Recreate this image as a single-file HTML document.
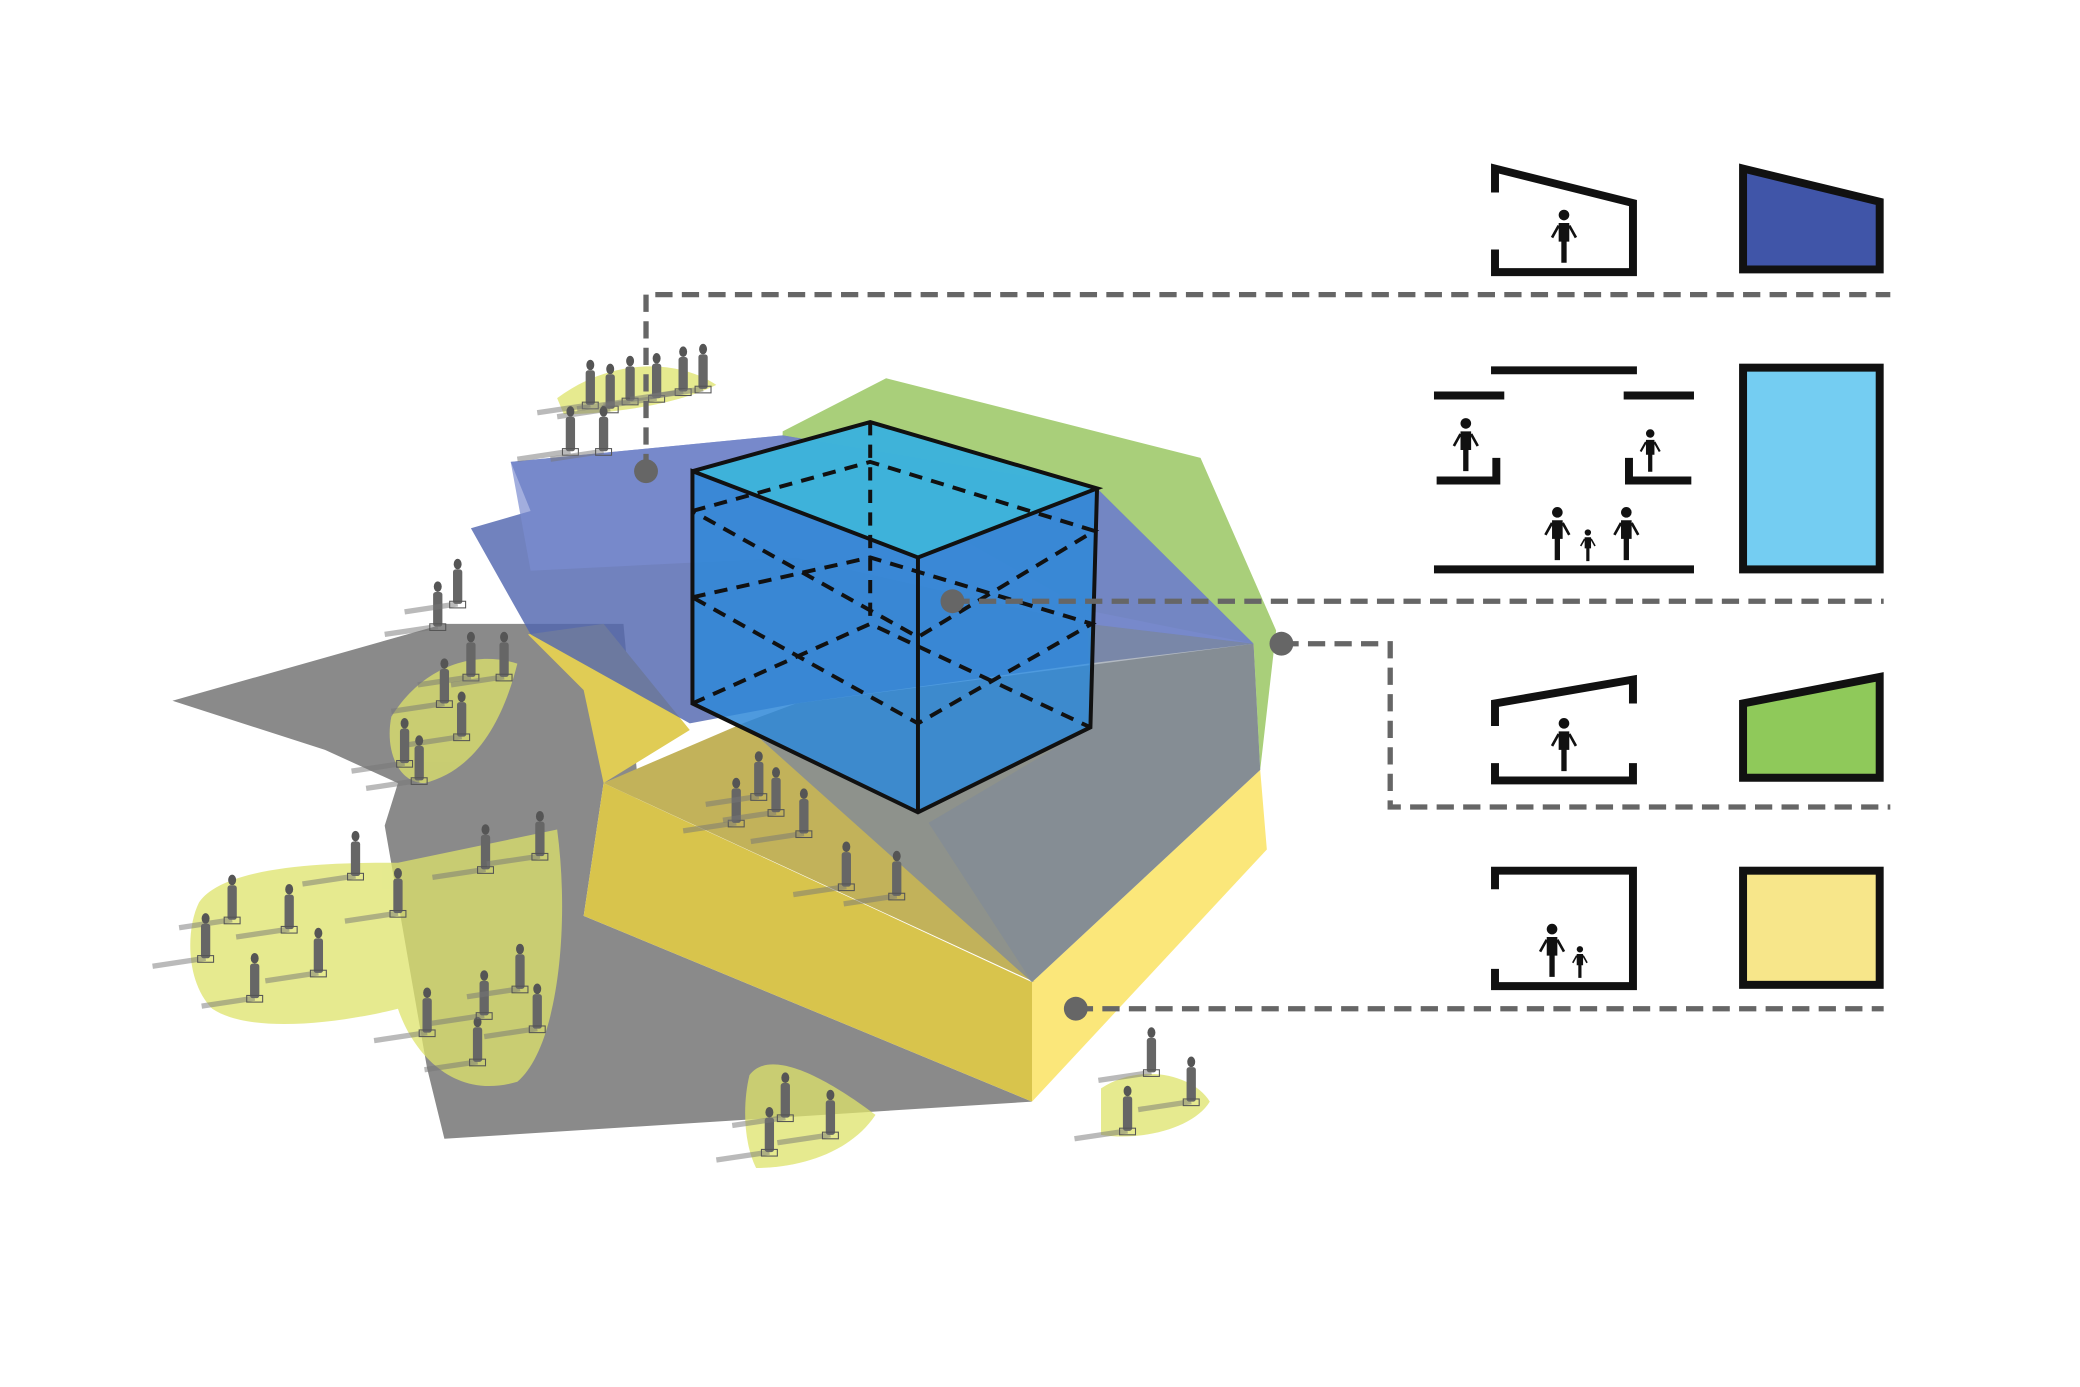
<!DOCTYPE html>
<html><head><meta charset="utf-8"><style>
html,body{margin:0;padding:0;background:#fff;width:2080px;height:1387px;overflow:hidden}
svg{display:block}
</style></head><body>
<svg width="2080" height="1387" viewBox="0 0 1568 1045" preserveAspectRatio="none" xmlns="http://www.w3.org/2000/svg">
<defs>
<g id="p"><path d="M0,0 L-40,6" stroke="#777" stroke-width="4" opacity="0.5"/><ellipse cx="0" cy="-30" rx="3" ry="4" fill="#555"/><rect x="-3.5" y="-26" width="7" height="26" rx="2" fill="#666"/><rect x="-6" y="-2" width="12" height="5" fill="none" stroke="#555" stroke-width="0.8"/></g>
<g id="ic"><circle cx="0" cy="-38" r="4" fill="#111"/><path d="M-4,-32 h8 v14 h-2 v16 h-4 v-16 h-2z" fill="#111"/><path d="M-4,-30 l-5,9 M4,-30 l5,9" stroke="#111" stroke-width="2"/></g>
</defs>
<rect width="1568" height="1045" fill="#fff"/>
<!-- ground shadow -->
<polygon points="130,528 335,470 470,470 480,580 455,590 440,690 778,830 335,858 322,805 290,622 300,590 245,565" fill="#8a8a8a"/>
<!-- yellow glow areas -->
<g fill="#dde36a" opacity="0.75">
<path d="M150,680 C170,650 260,650 300,650 L420,625 C430,700 420,790 390,815 C340,830 310,790 300,760 C260,770 190,780 160,760 C140,740 140,700 150,680Z"/>
<path d="M295,540 C320,500 360,490 390,500 C380,540 360,580 320,590 C300,590 290,565 295,540Z"/>
<path d="M540,570 C560,550 620,560 660,600 C690,630 700,670 670,680 C640,680 600,640 560,630 C540,620 535,590 540,570Z"/>
<path d="M565,810 C580,790 620,810 660,840 C640,870 600,880 570,880 C560,860 560,830 565,810Z"/>
<path d="M830,820 C860,800 900,810 912,830 C900,850 860,860 830,855Z"/>
<path d="M420,300 C460,270 510,270 540,290 C510,305 460,312 425,312Z"/>
</g>
<!-- yellow block -->
<polygon points="778,740 950,580 955,640 778,830" fill="#fbe77a"/>
<polygon points="440,690 455,590 778,740 778,830" fill="#d8c44c"/>
<polygon points="455,590 560,545 780,740" fill="#c2b25a"/>
<polygon points="398,478 455,470 520,550 455,590 440,520" fill="#e0cc55"/>
<!-- gray roof -->
<polygon points="560,545 600,530 945,485 950,580 778,740" fill="#8e928c"/>
<!-- green volume -->
<polygon points="590,325 668,285 905,345 962,475 950,580 945,485 820,460 590,330" fill="#a9cf7a"/>
<!-- blue slab -->
<polygon points="355,398 400,385 385,348 590,328 827,368 945,485 820,500 600,530 520,545 400,478" fill="#5266b0" opacity="0.82"/>
<polygon points="385,348 590,328 827,368 945,485 820,470 600,420 400,430" fill="#7b8bd0" opacity="0.7"/>
<polygon points="820,470 945,485 950,580 778,740 700,620 822,548" fill="#7f8a9a" opacity="0.6"/>
<!-- dashed cube -->
<polygon points="522,355 656,318 827,368 822,548 692,612 522,530" fill="#2f88d8" opacity="0.85"/>
<polygon points="522,355 656,318 827,368 692,420" fill="#3fb7da" opacity="0.9"/>
<g fill="none" stroke="#111" stroke-width="3">
<polyline points="522,355 656,318 827,368 692,420 522,355 522,530 692,612 822,548 827,368"/>
<line x1="692" y1="420" x2="692" y2="612"/>
</g>
<g fill="none" stroke="#111" stroke-width="3" stroke-dasharray="10,7">
<line x1="656" y1="318" x2="656" y2="470"/>
<polyline points="522,530 656,470 822,548"/>
<polyline points="522,385 656,348 825,400 692,480 522,385"/>
<polyline points="522,450 656,420 823,470 692,545 522,450"/>
</g>
<!-- people -->
<g>
<use href="#p" x="330" y="472"/><use href="#p" x="345" y="455"/><use href="#p" x="355" y="510"/><use href="#p" x="380" y="510"/><use href="#p" x="335" y="530"/><use href="#p" x="348" y="555"/><use href="#p" x="305" y="575"/><use href="#p" x="316" y="588"/>
<use href="#p" x="268" y="660"/><use href="#p" x="300" y="688"/><use href="#p" x="366" y="655"/><use href="#p" x="407" y="645"/><use href="#p" x="175" y="693"/><use href="#p" x="218" y="700"/><use href="#p" x="155" y="722"/><use href="#p" x="240" y="733"/><use href="#p" x="192" y="752"/>
<use href="#p" x="322" y="778"/><use href="#p" x="360" y="800"/><use href="#p" x="365" y="765"/><use href="#p" x="392" y="745"/><use href="#p" x="405" y="775"/>
<use href="#p" x="555" y="620"/><use href="#p" x="572" y="600"/><use href="#p" x="585" y="612"/><use href="#p" x="606" y="628"/><use href="#p" x="638" y="668"/><use href="#p" x="676" y="675"/>
<use href="#p" x="580" y="868"/><use href="#p" x="592" y="842"/><use href="#p" x="626" y="855"/>
<use href="#p" x="850" y="852"/><use href="#p" x="868" y="808"/><use href="#p" x="898" y="830"/>
<use href="#p" x="445" y="305"/><use href="#p" x="460" y="308"/><use href="#p" x="475" y="302"/><use href="#p" x="495" y="300"/><use href="#p" x="515" y="295"/><use href="#p" x="530" y="293"/><use href="#p" x="430" y="340"/><use href="#p" x="455" y="340"/>
</g>
<!-- connectors -->
<g fill="none" stroke="#666" stroke-width="4" stroke-dasharray="13,7">
<polyline points="487,355 487,222 1425,222"/>
<polyline points="718,453 1420,453"/>
<polyline points="966,485 1048,485 1048,608 1425,608"/>
<polyline points="811,760 1420,760"/>
</g>
<g fill="#666"><circle cx="487" cy="355" r="9"/><circle cx="718" cy="453" r="9"/><circle cx="966" cy="485" r="9"/><circle cx="811" cy="760" r="9"/></g>
<!-- legend -->
<g fill="none" stroke="#111" stroke-width="6">
<polyline points="1127,145 1127,127 1231,153 1231,205 1127,205 1127,188"/>
<path d="M1127,547 L1127,530 L1231,512 L1231,530 M1231,575 L1231,588 L1127,588 L1127,575"/>
<polyline points="1127,670 1127,656 1231,656 1231,743 1127,743 1127,730"/>
<line x1="1124" y1="279" x2="1234" y2="279"/><line x1="1081" y1="298" x2="1134" y2="298"/><line x1="1224" y1="298" x2="1277" y2="298"/>
<polyline points="1083,362 1128,362 1128,345"/><polyline points="1275,362 1228,362 1228,345"/>
<line x1="1081" y1="429" x2="1277" y2="429"/>
</g>
<use href="#ic" x="1179" y="200"/><use href="#ic" x="1105" y="357"/><use href="#ic" x="1244" y="357" transform="translate(1244,357) scale(0.8) translate(-1244,-357)"/>
<use href="#ic" x="1174" y="424"/><use href="#ic" x="1226" y="424"/><use href="#ic" x="1197" y="424" transform="translate(1197,424) scale(0.6) translate(-1197,-424)"/>
<use href="#ic" x="1179" y="583"/><use href="#ic" x="1170" y="738"/><use href="#ic" x="1191" y="738" transform="translate(1191,738) scale(0.6) translate(-1191,-738)"/>
<g stroke="#111" stroke-width="6">
<polygon points="1314,127 1417,152 1417,203 1314,203" fill="#4055a8"/>
<rect x="1314" y="277" width="103" height="152" fill="#74cdf2"/>
<polygon points="1314,530 1417,510 1417,586 1314,586" fill="#8fc95a"/>
<rect x="1314" y="656" width="103" height="86" fill="#f7e68a"/>
</g>
</svg>
</body></html>
